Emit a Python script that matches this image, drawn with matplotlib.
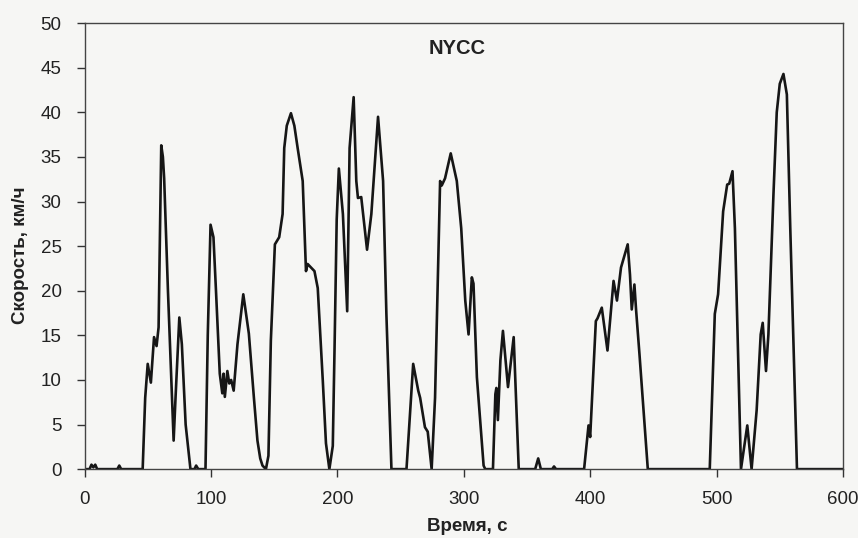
import numpy as np
import matplotlib
matplotlib.use("Agg")
import matplotlib.pyplot as plt

plt.rcParams['font.family'] = ['Liberation Sans', 'DejaVu Sans']

# NYCC speed trace (time s, speed km/h)
time = [0, 4, 5.5, 7, 8.5, 10, 26, 27.5, 29, 46, 48, 50, 52.5, 55, 57, 58.6,
        60.7, 62, 63, 66, 70.5, 72, 75, 77, 80, 83.8, 87, 88.3, 90, 95.7,
        97.5, 99.7, 102, 104, 107, 109, 110, 111, 113, 114.5, 116, 118, 121,
        125.6, 130, 134, 136.8, 139, 140.8, 143.5, 145.5, 147.4, 150.6, 154,
        156.7, 158, 160, 163.3, 166, 168.6, 172.6, 175.2, 176.5, 181.9, 184.5,
        188.5, 191, 193.7, 196.4, 197.8, 199.5, 201.2, 204.4, 207.8, 209.7,
        212.9, 215, 216.3, 218.9, 223.5, 226.9, 232.2, 236.2, 238.8, 242.8,
        254.7, 260, 264, 265.5, 269.3, 271.5, 274.6, 277.3, 281.3, 282.6,
        285.2, 289.7, 294.5, 298, 301.2, 303.8, 306.4, 307.7, 310.4, 315.7,
        317, 323.1, 325, 325.8, 327, 329, 331, 335, 339.5, 343.5, 356.5,
        358.9, 361, 370, 371.4, 373, 395.2, 398.7, 400, 404.5, 405.8, 409.2,
        413.7, 418.5, 421.2, 424.4, 429.7, 431.5, 432.9, 435, 436.3, 439,
        445.6, 494.6, 498.6, 501.2, 505.2, 508.4, 510, 512.6, 514.5, 519.3,
        524.3, 527.7, 531.7, 534.9, 536.5, 539.1, 541, 545, 547.6, 550,
        552.9, 555.6, 558.3, 563.6, 600]
speed = [0, 0, 0.5, 0.2, 0.5, 0, 0, 0.4, 0, 0, 8, 11.8, 9.7, 14.8, 13.8, 15.9,
         36.3, 35, 32.6, 20, 3.2, 8, 17, 14, 5, 0, 0, 0.4, 0, 0,
         15, 27.4, 26, 20, 10.7, 8.5, 10.7, 8.1, 11, 9.6, 10, 8.8, 14,
         19.6, 15.2, 8, 3.2, 1.2, 0.4, 0, 1.5, 14.4, 25.2, 26,
         28.6, 36, 38.5, 39.9, 38.5, 36, 32.3, 22.2, 23, 22.2, 20.3,
         9.9, 2.9, 0, 2.6, 13.6, 28, 33.7, 28.6, 17.7, 36,
         41.7, 32.3, 30.4, 30.5, 24.6, 28.6, 39.5, 32.3, 17.4, 0,
         0, 11.8, 8.8, 8, 4.7, 4.2, 0, 8, 32.3, 31.8,
         32.6, 35.4, 32.3, 27, 18.9, 15.1, 21.5, 20.8, 10.3, 0.4,
         0, 0, 8.4, 9.1, 5.5, 12.2, 15.5, 9.2, 14.8, 0, 0,
         1.2, 0, 0, 0.3, 0, 0, 4.9, 3.6, 16.6, 16.9, 18.1,
         13.3, 21.1, 18.9, 22.6, 25.2, 21.8, 17.9, 20.7, 17.9, 12.9,
         0, 0, 17.4, 19.6, 28.9, 31.9, 32, 33.4, 27, 0,
         4.9, 0, 6.6, 15.1, 16.4, 11, 15.1, 30.8, 40, 43.2,
         44.3, 42, 27, 0, 0]

bg = '#f6f6f4'
ink = '#222222'
fig = plt.figure(figsize=(8.58, 5.38), dpi=100, facecolor=bg)
ax = fig.add_axes([0.0985, 0.128, 0.884, 0.829], facecolor=bg)

ax.plot(time, speed, color='#161616', lw=1.9, solid_joinstyle='round')

ax.set_xlim(0, 600)
ax.set_ylim(0, 50)
ax.set_xticks(np.arange(0, 601, 100))
ax.set_yticks(np.arange(0, 51, 5))
ax.tick_params(direction='out', length=6, width=1, colors='#333333',
               labelsize=13.5, labelcolor=ink)
ax.tick_params(axis='x', pad=10)
ax.tick_params(axis='y', pad=10.5)
for s in ax.spines.values():
    s.set_color('#444444')
    s.set_linewidth(1)

ax.text(295, 47.2, 'NYCC', ha='center', va='center', fontsize=14.5,
        fontweight='bold', color=ink)
ax.set_xlabel('Время, с', fontsize=13.5, fontweight='bold', color=ink)
ax.set_ylabel('Скорость, км/ч', fontsize=13.5, fontweight='bold', color=ink)
ax.xaxis.label.set_va('center')
ax.yaxis.label.set_va('center')
ax.xaxis.set_label_coords(0.505, -0.128)
ax.yaxis.set_label_coords(-0.085, 0.48)

fig.savefig('out.png', dpi=100, facecolor=bg)
